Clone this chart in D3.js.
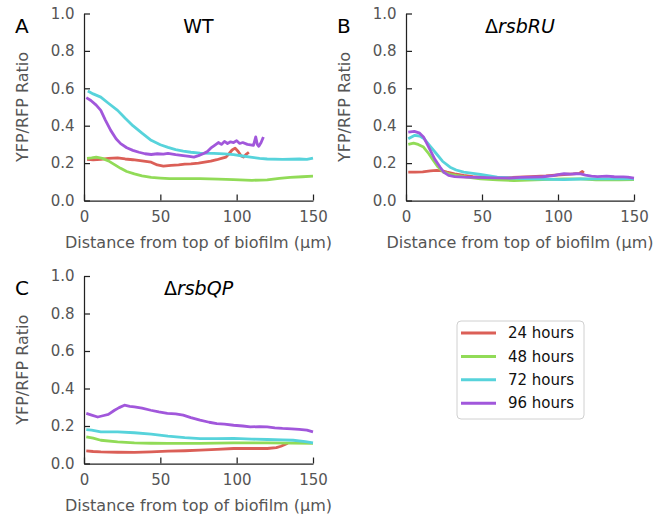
<!DOCTYPE html>
<html>
<head>
<meta charset="utf-8">
<script src="https://cdn.jsdelivr.net/npm/d3@7"></script>
<style>
  body { margin: 0; background: #fff; }
  text { font-family: "DejaVu Sans", sans-serif; }
</style>
</head>
<body>
<script>
// series: [distance (µm), YFP/RFP ratio]
var hours = ['24 hours', '48 hours', '72 hours', '96 hours'];
var colors = ['#db5f57', '#91db57', '#57d3db', '#a157db'];
var xTicks = [0, 50, 100, 150];
var yTicks = [0.0, 0.2, 0.4, 0.6, 0.8, 1.0];

var wt24 = [[2,0.22],[6,0.218],[11,0.22],[16,0.225],[22,0.228],[27,0.222],[32,0.218],[38,0.212],[44,0.205],[48,0.19],[52,0.184],[57,0.188],[62,0.19],[66,0.195],[70,0.196],[75,0.2],[79,0.205],[83,0.21],[87,0.218],[90,0.225],[93,0.232],[95,0.25],[97,0.27],[99,0.28],[101,0.262],[103,0.238],[104.5,0.232],[106,0.245],[108,0.258]];
var wt48 = [[2,0.225],[5,0.228],[8,0.232],[12,0.225],[16,0.212],[20,0.192],[24,0.172],[28,0.155],[33,0.142],[38,0.132],[44,0.124],[50,0.12],[56,0.117],[65,0.117],[76,0.117],[88,0.114],[98,0.112],[110,0.108],[120,0.11],[128,0.118],[135,0.124],[143,0.127],[150,0.13]];
var wt72 = [[2.5,0.585],[6,0.57],[11,0.553],[16,0.52],[22,0.482],[27,0.44],[32,0.4],[38,0.36],[44,0.322],[50,0.298],[55,0.284],[60,0.272],[65,0.264],[70,0.258],[76,0.253],[85,0.252],[92,0.249],[98,0.245],[104,0.238],[109,0.232],[115,0.225],[120,0.222],[130,0.22],[141,0.222],[146,0.22],[150,0.227]];
var wt96 = [[1.5,0.55],[4.5,0.535],[8,0.51],[11,0.482],[14,0.43],[17.5,0.375],[21,0.33],[24,0.304],[28,0.282],[32,0.268],[36,0.258],[40,0.25],[44,0.246],[48,0.25],[52,0.248],[55,0.252],[60,0.245],[65,0.24],[69,0.236],[72,0.232],[75,0.24],[78,0.25],[80.5,0.26],[83,0.28],[86,0.298],[88,0.31],[90,0.3],[92,0.316],[94,0.305],[96,0.314],[98,0.31],[100,0.32],[102,0.305],[104,0.31],[107,0.3],[109,0.298],[111,0.295],[112.5,0.34],[113.5,0.3],[114.5,0.29],[116,0.31],[117.5,0.34]];

var ru24 = [[1.5,0.152],[6,0.152],[11,0.153],[16,0.158],[20,0.161],[24,0.158],[27,0.152],[32,0.143],[38,0.134],[44,0.128],[49,0.125],[55,0.122],[60,0.121],[70,0.123],[82,0.128],[92,0.132],[104,0.139],[110,0.142],[114,0.145],[116,0.155],[117,0.148]];
var ru48 = [[1.5,0.3],[5,0.307],[8,0.3],[11.5,0.286],[15,0.25],[18,0.214],[21,0.18],[24.5,0.152],[29,0.14],[33,0.134],[40,0.125],[49,0.116],[60,0.11],[71,0.107],[85,0.11],[104,0.116],[115,0.116],[125,0.111],[140,0.111],[150,0.112]];
var ru72 = [[1.5,0.33],[5.5,0.348],[9,0.345],[12,0.33],[16,0.29],[20,0.25],[24,0.21],[29,0.178],[33,0.163],[38,0.152],[44,0.145],[49,0.139],[55,0.132],[60,0.125],[70,0.12],[82,0.116],[95,0.113],[104,0.112],[115,0.115],[125,0.116],[140,0.116],[150,0.116]];
var ru96 = [[1.5,0.366],[5.5,0.37],[9,0.36],[11.5,0.34],[14,0.3],[16,0.268],[19,0.22],[22.5,0.178],[25,0.15],[28,0.134],[32,0.128],[38,0.125],[45,0.124],[52,0.122],[60,0.121],[68,0.12],[75,0.124],[82,0.125],[90,0.127],[97,0.133],[101,0.14],[104,0.143],[108,0.141],[112,0.143],[115,0.142],[118,0.136],[122,0.13],[126,0.128],[132,0.13],[137,0.127],[143,0.126],[146,0.125],[150,0.12]];

var qp24 = [[1.5,0.067],[6,0.064],[11,0.062],[22,0.06],[33,0.059],[44,0.062],[55,0.066],[66,0.068],[76,0.071],[87,0.075],[98,0.08],[109,0.08],[120,0.08],[126,0.085],[129,0.092],[132,0.103],[133.5,0.108]];
var qp48 = [[1.5,0.142],[6,0.135],[11,0.124],[22,0.115],[33,0.11],[44,0.108],[55,0.107],[76,0.107],[98,0.11],[120,0.11],[135,0.109],[150,0.107]];
var qp72 = [[1.5,0.181],[5,0.178],[11,0.169],[22,0.169],[33,0.164],[44,0.157],[55,0.146],[66,0.138],[76,0.133],[87,0.133],[98,0.134],[110,0.13],[120,0.128],[130,0.126],[137,0.124],[145,0.117],[150,0.11]];
var qp96 = [[1.5,0.267],[5,0.258],[9,0.248],[13,0.256],[16,0.262],[20,0.284],[23,0.298],[26.5,0.311],[30,0.305],[33,0.302],[38,0.295],[43.7,0.284],[49,0.275],[54.6,0.267],[60,0.265],[65,0.258],[70,0.245],[76,0.231],[82,0.22],[87,0.213],[92,0.21],[98,0.204],[104,0.2],[109,0.195],[115,0.197],[120,0.195],[125,0.19],[130,0.187],[136,0.185],[141,0.182],[146,0.178],[150,0.169]];

var svg = d3.select('body').append('svg')
            .attr('width', 654)
            .attr('height', 520);

var panels = [
  {letter: 'A', pre: '', name: 'WT', italic: false, left: 84, right: 313, top: 13.5, bottom: 200.5, series: [wt24, wt48, wt72, wt96]},
  {letter: 'B', pre: '\u0394', name: 'rsbRU', italic: true, left: 406, right: 634, top: 13.5, bottom: 200.5, series: [ru24, ru48, ru72, ru96]},
  {letter: 'C', pre: '\u0394', name: 'rsbQP', italic: true, left: 84, right: 313, top: 276, bottom: 463.5, series: [qp24, qp48, qp72, qp96]}
];

panels.forEach(function(p) {
  var x = d3.scaleLinear().domain([0, 150]).range([p.left, p.right]);
  var y = d3.scaleLinear().domain([0, 1]).range([p.bottom, p.top]);
  var g = svg.append('g');

  var yAxis = g.append('g')
               .attr('transform', 'translate(' + p.left + ',0)')
               .call(d3.axisLeft(y).tickValues(yTicks).tickFormat(d3.format('.1f'))
                       .tickSizeInner(-6).tickSizeOuter(0).tickPadding(9.5));
  var xAxis = g.append('g')
               .attr('transform', 'translate(0,' + p.bottom + ')')
               .call(d3.axisBottom(x).tickValues(xTicks)
                       .tickSizeInner(-6).tickSizeOuter(0).tickPadding(11));
  g.selectAll('.domain').attr('stroke', '#222').attr('stroke-width', 1.25);
  g.selectAll('.tick line').attr('stroke', '#222').attr('stroke-width', 1.25);
  g.selectAll('.tick text').attr('fill', '#555').style('font-size', '15px')
   .style('font-family', '"DejaVu Sans", sans-serif');

  var line = d3.line().x(function(d){ return x(d[0]); }).y(function(d){ return y(d[1]); });
  p.series.forEach(function(s, i) {
    g.append('path')
     .datum(s)
     .attr('d', line)
     .attr('fill', 'none')
     .attr('stroke', colors[i])
     .attr('stroke-width', 2.8)
     .attr('stroke-linejoin', 'round')
     .attr('stroke-linecap', 'butt');
  });

  g.append('text')
   .attr('x', (p.left + p.right) / 2)
   .attr('y', p.bottom + 47)
   .attr('text-anchor', 'middle')
   .attr('fill', '#555')
   .style('font-size', '16px')
   .text('Distance from top of biofilm (\u03bcm)');

  g.append('text')
   .attr('transform', 'translate(' + (p.left - 56) + ',' + ((p.top + p.bottom) / 2) + ') rotate(-90)')
   .attr('text-anchor', 'middle')
   .attr('fill', '#555')
   .style('font-size', '16px')
   .text('YFP/RFP Ratio');

  g.append('text')
   .attr('x', p.left - 69)
   .attr('y', p.top + 19)
   .attr('fill', '#000')
   .style('font-size', '20px')
   .text(p.letter);

  var t = g.append('text')
           .attr('x', (p.left + p.right) / 2)
           .attr('y', p.top + 19)
           .attr('text-anchor', 'middle')
           .attr('fill', '#000')
           .style('font-size', '19px');
  t.append('tspan').text(p.pre);
  t.append('tspan').style('font-style', p.italic ? 'italic' : 'normal').text(p.name);
});

// legend
var legend = svg.append('g').attr('transform', 'translate(457,321)');
legend.append('rect')
      .attr('width', 127).attr('height', 98).attr('rx', 4)
      .attr('fill', '#fff').attr('stroke', '#d0d0d0').attr('stroke-width', 1);
hours.forEach(function(h, i) {
  var row = legend.append('g').attr('transform', 'translate(0,' + (12 + i * 23.4) + ')');
  row.append('line').attr('x1', 4).attr('x2', 39).attr('y1', 0).attr('y2', 0)
     .attr('stroke', colors[i]).attr('stroke-width', 3);
  row.append('text').attr('x', 51).attr('y', 0).attr('dy', '0.35em')
     .attr('fill', '#111').style('font-size', '15px').text(h);
});
</script>
</body>
</html>
